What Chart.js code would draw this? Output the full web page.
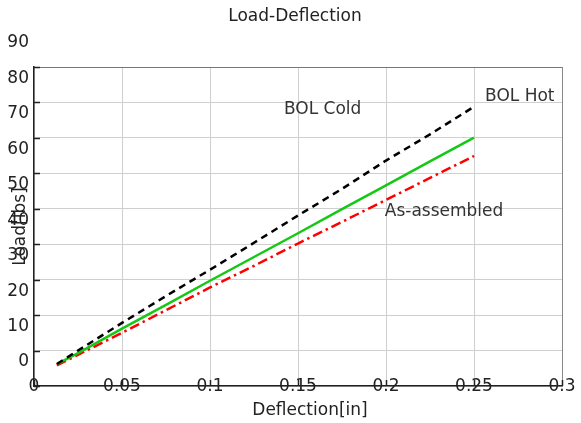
<!DOCTYPE html>
<html>
<head>
<meta charset="utf-8">
<script src="https://cdn.jsdelivr.net/npm/chart.js@4.4.1/dist/chart.umd.min.js"></script>
<style>
  html, body { margin: 0; padding: 0; background: #fff; }
  canvas { display: block; }
</style>
</head>
<body>
<canvas id="loadChart" width="581" height="423"></canvas>
<script>
// deflection [in] and load [lbs]
const deflection = [0.013, 0.025, 0.05, 0.075, 0.1, 0.125, 0.15, 0.175, 0.2, 0.225, 0.25];
const bolHot     = [6.2, 10.0, 17.8, 25.4, 32.8, 40.4, 48.1, 55.6, 63.6, 71.0, 78.8];
const bolCold    = [6.2, 9.3, 16.2, 22.9, 29.7, 36.4, 43.1, 49.9, 56.6, 63.4, 70.1];
const asAssembled = [5.8, 8.8, 15.0, 21.4, 27.8, 33.9, 40.2, 46.3, 52.5, 58.7, 64.9];

const xTicks = [0, 0.05, 0.1, 0.15, 0.2, 0.25, 0.3];
const yTicks = [0, 10, 20, 30, 40, 50, 60, 70, 80, 90];

// curve labels (data coordinates)
const curveNames = ["BOL Cold", "BOL Hot", "As-assembled"];
const curveNameX = [0.164, 0.276, 0.233];
const curveNameY = [77.9, 81.6, 49.1];

const FONT = "DejaVu Sans";

function pts(ys) {
  return deflection.map((x, i) => ({ x: x, y: ys[i] }));
}

// titles, x tick labels (they sit on the axis line), curve labels, inward ticks
const decorations = {
  id: "decorations",
  afterDraw(chart) {
    const ctx = chart.ctx;
    const area = chart.chartArea;
    const xs = chart.scales.x, ys = chart.scales.y;
    ctx.save();

    ctx.fillStyle = "#222";
    ctx.font = "17px '" + FONT + "'";
    ctx.textAlign = "center";
    ctx.textBaseline = "middle";

    // x tick labels centred on the axis line
    xTicks.forEach(v => {
      ctx.fillText(String(v), xs.getPixelForValue(v), area.bottom + 1);
    });

    // inner tick marks, drawn over the labels
    ctx.strokeStyle = "#222";
    ctx.lineWidth = 1.5;
    ctx.beginPath();
    yTicks.forEach(v => {
      const y = Math.round(ys.getPixelForValue(v)) + 0.5;
      ctx.moveTo(area.left, y);
      ctx.lineTo(area.left + 6, y);
    });
    xTicks.forEach(v => {
      const x = Math.round(xs.getPixelForValue(v)) + 0.5;
      ctx.moveTo(x, area.bottom);
      ctx.lineTo(x, area.bottom - 6);
    });
    ctx.stroke();

    // chart title
    ctx.fillText("Load-Deflection", (area.left + area.right) / 2 - 3, 17);
    // x axis title
    ctx.fillText("Deflection[in]", (area.left + area.right) / 2 + 12, 411);
    // y axis title
    ctx.save();
    ctx.translate(21, (area.top + area.bottom) / 2);
    ctx.rotate(-Math.PI / 2);
    ctx.fillText("Load[lbs]", 0, 0);
    ctx.restore();

    // curve names
    ctx.fillStyle = "#333";
    curveNames.forEach((t, i) => {
      ctx.fillText(t, xs.getPixelForValue(curveNameX[i]), ys.getPixelForValue(curveNameY[i]));
    });
    ctx.restore();
  }
};

const ctx = document.getElementById("loadChart").getContext("2d");
const chart = new Chart(ctx, {
  type: "line",
  data: {
    datasets: [
      {
        label: "BOL Hot",
        data: pts(bolHot),
        borderColor: "#000000",
        borderWidth: 2.5,
        borderDash: [7, 5]
      },
      {
        label: "BOL Cold",
        data: pts(bolCold),
        borderColor: "#14c814",
        borderWidth: 2.5
      },
      {
        label: "As-assembled",
        data: pts(asAssembled),
        borderColor: "#ff0000",
        borderWidth: 2.5,
        borderDash: [10, 4, 2.5, 4]
      }
    ]
  },
  options: {
    responsive: false,
    animation: false,
    parsing: false,
    elements: {
      point: { radius: 0 },
      line: { tension: 0, fill: false }
    },
    layout: { padding: { top: 67, right: 19, left: 0, bottom: 0 } },
    plugins: {
      legend: { display: false },
      title: { display: false },
      tooltip: { enabled: false }
    },
    scales: {
      x: {
        type: "linear",
        min: 0,
        max: 0.3,
        afterBuildTicks: s => { s.ticks = xTicks.map(v => ({ value: v })); },
        afterFit: s => { s.height = 37; },
        grid: {
          drawTicks: false,
          color: c => (c.tick && c.tick.value === 0.3) ? "#888" : "#cfcfcf",
          lineWidth: 1
        },
        border: { color: "#222", width: 1.5 },
        ticks: { display: false }
      },
      y: {
        type: "linear",
        min: 0,
        max: 90,
        afterBuildTicks: s => { s.ticks = yTicks.map(v => ({ value: v })); },
        afterFit: s => { s.width = 34; },
        grid: {
          drawTicks: false,
          color: c => (c.tick && c.tick.value === 90) ? "#777" : "#cfcfcf",
          lineWidth: 1
        },
        border: { color: "#222", width: 1.5 },
        ticks: {
          color: "#222",
          padding: 5,
          labelOffset: -24,
          font: { family: FONT, size: 17 },
          callback: v => String(v)
        }
      }
    }
  },
  plugins: [decorations]
});
</script>
</body>
</html>
